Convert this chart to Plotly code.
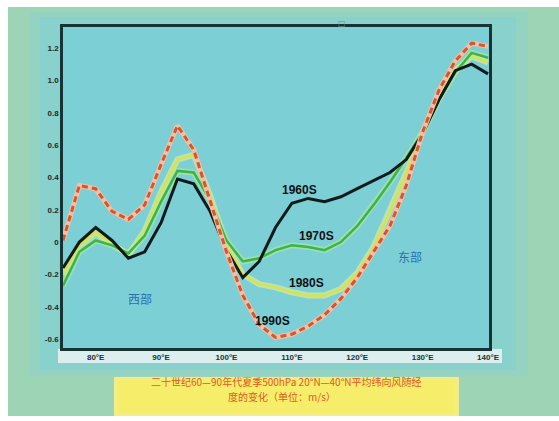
import plotly.graph_objects as go

# Longitudes (°E), 2.5° grid
lons = [75, 77.5, 80, 82.5, 85, 87.5, 90, 92.5, 95, 97.5, 100, 102.5, 105,
        107.5, 110, 112.5, 115, 117.5, 120, 122.5, 125, 127.5, 130, 132.5,
        135, 137.5, 140]

s1960 = [-0.16, 0.00, 0.09, 0.01, -0.10, -0.06, 0.12, 0.39, 0.36, 0.19, -0.05,
         -0.22, -0.12, 0.09, 0.24, 0.27, 0.25, 0.28, 0.33, 0.38, 0.43, 0.51,
         0.67, 0.88, 1.06, 1.10, 1.04]
s1970 = [-0.27, -0.06, 0.01, -0.02, -0.07, 0.04, 0.25, 0.44, 0.43, 0.26, 0.01,
         -0.12, -0.10, -0.05, -0.02, -0.03, -0.05, 0.00, 0.10, 0.23, 0.37, 0.52,
         0.68, 0.88, 1.05, 1.17, 1.14]
s1980 = [-0.20, -0.02, 0.06, -0.01, -0.08, 0.07, 0.31, 0.51, 0.54, 0.29, -0.02,
         -0.20, -0.26, -0.28, -0.31, -0.33, -0.33, -0.29, -0.19, -0.03, 0.19,
         0.43, 0.68, 0.90, 1.06, 1.15, 1.11]
s1990 = [0.01, 0.35, 0.33, 0.19, 0.14, 0.23, 0.48, 0.72, 0.57, 0.26, -0.06,
         -0.33, -0.51, -0.59, -0.57, -0.52, -0.45, -0.35, -0.22, -0.06, 0.10,
         0.35, 0.68, 0.94, 1.12, 1.23, 1.21]

x_ticks = [80, 90, 100, 110, 120, 130, 140]
x_tick_text = ["80°E", "90°E", "100°E", "110°E", "120°E", "130°E", "140°E"]
y_ticks = [1.2, 1.0, 0.8, 0.6, 0.4, 0.2, 0, -0.2, -0.4, -0.6]
y_tick_text = ["1.2", "1.0", "0.8", "0.6", "0.4", "0.2", "0", "-0.2", "-0.4", "-0.6"]

caption = ["二十世纪60—90年代夏季500hPa 20°N—40°N平均纬向风随经",
           "度的变化（单位：m/s）"]

W, H = 559, 421
L, R, T, B = 63, 489, 27, 348  # plot area in figure pixels


def fx(px):
    return (px - L) / (R - L)


def fy(py):
    return (B - py) / (B - T)


fig = go.Figure()

# 1980s: pale yellow line with soft halo
fig.add_trace(go.Scatter(x=lons, y=s1980, mode="lines",
                         line=dict(color="rgba(240,245,150,0.55)", width=6)))
fig.add_trace(go.Scatter(x=lons, y=s1980, mode="lines",
                         line=dict(color="#d8e24c", width=2.5)))
# 1970s: green line with soft halo
fig.add_trace(go.Scatter(x=lons, y=s1970, mode="lines",
                         line=dict(color="rgba(190,235,150,0.55)", width=6)))
fig.add_trace(go.Scatter(x=lons, y=s1970, mode="lines",
                         line=dict(color="#39b54a", width=2.5)))
# 1960s: heavy black line
fig.add_trace(go.Scatter(x=lons, y=s1960, mode="lines",
                         line=dict(color="#111a1a", width=3)))
# 1990s: red dashed line over a pale underlay
fig.add_trace(go.Scatter(x=lons, y=s1990, mode="lines",
                         line=dict(color="#f2c0a4", width=5)))
fig.add_trace(go.Scatter(x=lons, y=s1990, mode="lines",
                         line=dict(color="#d9532c", width=3, dash="6px,4px")))

ann = []
for text, x, y in [("1960S", 111.2, 0.32), ("1970S", 113.8, 0.04),
                   ("1980S", 112.3, -0.25), ("1990S", 107.1, -0.49)]:
    ann.append(dict(x=x, y=y, xref="x", yref="y", text=text, showarrow=False,
                    font=dict(family="Liberation Sans, Arial", size=12,
                              color="#111111", weight="bold")))
ann.append(dict(x=86.8, y=-0.35, xref="x", yref="y", text="西部",
                showarrow=False,
                font=dict(family="Noto Sans CJK SC", size=12, color="#2a6fae")))
ann.append(dict(x=128.1, y=-0.09, xref="x", yref="y", text="东部",
                showarrow=False,
                font=dict(family="Noto Sans CJK SC", size=12, color="#2a6fae")))
# caption lines in the yellow box
for line_text, cx, cy in [(caption[0], 286, 390), (caption[1], 282, 405)]:
    ann.append(dict(x=fx(cx), y=fy(cy), xref="paper", yref="paper",
                    text=line_text, showarrow=False, borderpad=0,
                    font=dict(family="Noto Sans CJK SC", size=10,
                              color="#e4581f")))
ann.append(dict(x=fx(348), y=fy(17), xref="paper", yref="paper",
                text="□", showarrow=False,
                font=dict(family="DejaVu Sans", size=8, color="#6f8f86")))


def px_rect(x0, y0, x1, y1, color, layer="below"):
    return dict(type="rect", xref="paper", yref="paper",
                x0=fx(x0), x1=fx(x1), y0=fy(y1), y1=fy(y0),
                fillcolor=color, line=dict(width=0), layer=layer)


shapes = [
    px_rect(8, 7, W, 416, "#9dd4b5"),
    px_rect(30, 12, 528, 376, "#94d3c2"),
    px_rect(40, 17, 516, 370, "#88d1cd"),
    px_rect(58, 349, 502, 363, "#dcefee"),
    px_rect(L, T, R, B, "#7dcfd6"),
    px_rect(114, 377, 459, 416, "#f3ec8a"),
    px_rect(118, 380, 455, 413, "#f6ee6a"),
]

fig.update_layout(
    width=W, height=H,
    margin=dict(l=L, r=W - R, t=T, b=H - B),
    paper_bgcolor="#ffffff",
    plot_bgcolor="#7dcfd6",
    showlegend=False,
    annotations=ann,
    shapes=shapes,
    xaxis=dict(range=[75, 140.15], tickvals=x_ticks, ticktext=x_tick_text,
               showgrid=False, zeroline=False, showline=True, mirror=True,
               linecolor="#173333", linewidth=2.5, ticks="",
               tickfont=dict(family="Liberation Sans, Arial", size=8,
                             color="#223333", weight="bold")),
    yaxis=dict(range=[-0.655, 1.33], tickvals=y_ticks, ticktext=y_tick_text,
               showgrid=False, zeroline=False, showline=True, mirror=True,
               linecolor="#173333", linewidth=2.5, ticks="",
               tickfont=dict(family="Liberation Sans, Arial", size=8,
                             color="#1a2a2a", weight="bold")),
)

fig.write_html("out.html")
